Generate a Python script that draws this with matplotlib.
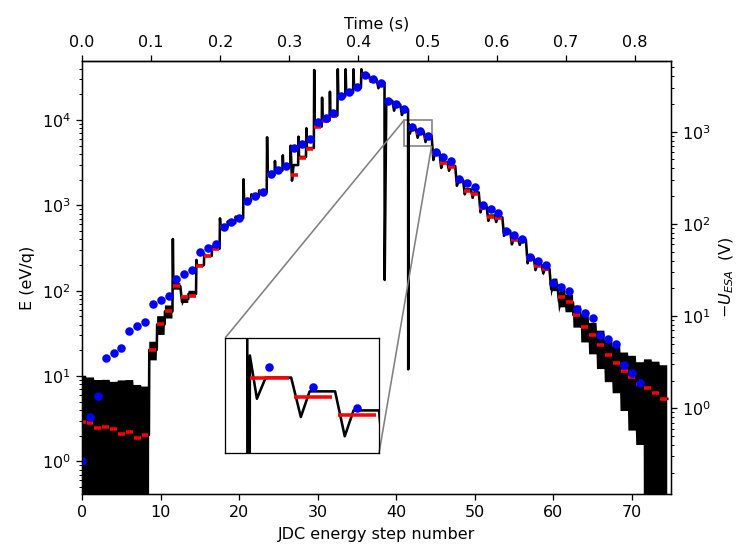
import numpy as np
import matplotlib.pyplot as plt
from mpl_toolkits.axes_grid1.inset_locator import mark_inset

# nominal energy per step (blue dots), steps 0..71
e_nominal = [1.0, 3.3, 5.9, 16.3, 18.8, 21.3, 34, 38.5, 43, 70, 78, 87,
             138, 157, 175, 282, 314, 356, 562, 639, 718, 1135, 1290, 1448,
             2316, 2600, 2918, 4670, 5245, 5960, 9420, 10500, 12000, 19170, 21350, 24250,
             34050, 30570, 27220, 16880, 15310, 13390, 8370, 7450, 6560, 4195, 3724, 3316,
             2060, 1833, 1630, 1011, 908, 808, 505, 450, 401, 250, 223, 199,
             124, 110, 98.4, 61.2, 54.8, 48.2, 30.2, 26.9, 23.9, 13.6, 11.0, 8.4]

# measured step means (red bars), steps 0..74
e_mean = [2.9, 2.85, 2.5, 2.55, 2.37, 2.11, 2.19, 1.88, 2.05, 20.3, 40.4, 57.3,
          113, 84, 88, 197, 256, 311, 562, 617, 706, 1135, 1265, 1425,
          2250, 2550, 2843, 2254, 3565, 4620, 8240, 9770, 11170, 18830, 20950, 23780,
          34000, 29500, 27000, 16500, 15030, 13140, 7870, 7000, 6280, 4080, 3116, 2843,
          1932, 1487, 1371, 940, 738, 706, 492, 393, 386, 240, 196, 178,
          119, 84, 73, 52, 37.8, 30, 23.1, 17.5, 14.3, 11.4, 9.8, 8.06, 7.23, 6.27, 5.42]

# black trace: plateau, spike after the step change, undershoot, sharp dips (0 = none)
plateau = [2.9, 2.85, 2.5, 2.55, 2.37, 2.11, 2.19, 1.88, 2.05, 20.3, 40.4, 57.3,
           113, 80, 92, 199, 256, 311, 562, 620, 710, 1135, 1270, 1430,
           2280, 2560, 2860, 2970, 3700, 4700, 8400, 9900, 11300, 19000, 21100, 24000,
           34000, 29800, 27200, 16800, 15200, 13300, 7870, 7244, 6460, 4150, 3200, 2900,
           1990, 1540, 1420, 970, 760, 725, 505, 405, 395, 246, 200, 182,
           119, 84, 73, 52, 37.8, 30, 23.1, 17.5, 14.3, 11.4, 9.8, 8.06, 7.23, 6.27, 5.42]
spike = [0, 0, 0, 0, 0, 0, 0, 0, 0, 0, 0, 0,
         404, 0, 0, 230, 270, 330, 706, 650, 740, 2023, 1350, 1500,
         6290, 3316, 3866, 5010, 6390, 8020, 38650, 18300, 21500, 39400, 39400, 39400,
         39400, 0, 0, 0, 0, 0, 8990, 0, 0, 0, 0, 0,
         0, 0, 0, 0, 0, 0, 0, 0, 0, 0, 0, 0,
         0, 0, 0, 0, 0, 0, 0, 0, 0, 0, 0, 0, 0, 0, 0]
undershoot = [0, 0, 0, 0, 0, 0, 0, 0, 0, 0, 0, 0,
              0, 74, 0, 0, 0, 0, 0, 0, 0, 0, 0, 0,
              0, 0, 0, 1950, 0, 0, 0, 0, 0, 0, 0, 0,
              0, 28200, 23600, 15000, 12880, 11480, 6930, 6210, 5530, 3400, 2750, 2550,
              1700, 1350, 1230, 830, 660, 640, 440, 350, 345, 210, 175, 160,
              105, 75, 0, 0, 0, 0, 0, 0, 0, 0, 0, 0, 0, 0, 0]
sharp_dip = {39: 134, 42: 12}

# noise amplitude (eV) around the black trace
noise_amp = [7.2, 6.8, 6.5, 6.5, 6.2, 6.8, 6.8, 6.0, 5.5, 5, 10, 10,
             10, 8, 8, 6, 6, 6, 6, 6, 6, 6, 6, 6,
             6, 6, 6, 6, 6, 6, 6, 6, 6, 6, 6, 6,
             6, 6, 6, 6, 6, 6, 6, 6, 6, 6, 6, 6,
             6, 6, 6, 6, 6, 6, 6, 6, 6, 6, 8, 10,
             20, 20, 17, 15, 13, 12, 11, 9, 8, 7.5, 7.5, 6.5, 8.5, 8.5, 8]

n_steps = len(e_mean)
dt = 0.01137  # s per energy step

# build the black trace knots
tx, ty, ta = [], [], []
prev = plateau[0]
for k in range(n_steps):
    b = k - 0.5
    tx.append(b); ty.append(prev); ta.append(noise_amp[max(k - 1, 0)])
    t_next = b + 0.05
    if k in sharp_dip:
        tx.append(b + 0.02); ty.append(sharp_dip[k]); ta.append(noise_amp[k])
        t_next = b + 0.06
    if spike[k]:
        tx.append(t_next); ty.append(spike[k]); ta.append(noise_amp[k])
        t_next = b + 0.12
    if undershoot[k]:
        tx.append(b + 0.22); ty.append(undershoot[k]); ta.append(noise_amp[k])
        t_next = b + 0.42
    tx.append(t_next); ty.append(plateau[k]); ta.append(noise_amp[k])
    prev = plateau[k]
tx.append(n_steps - 0.5); ty.append(prev); ta.append(noise_amp[-1])
tx = np.array(tx); ty = np.array(ty); ta = np.array(ta)
hi = ty + ta
lo = np.clip(ty - ta, 0.01, None)

steps = np.arange(n_steps)
nom_steps = np.arange(len(e_nominal))


def draw(a):
    a.fill_between(tx, lo, hi, color='black', lw=0)
    a.plot(tx, ty, color='black', lw=1.6)
    a.hlines(e_mean, steps - 0.44, steps + 0.44, color='red', lw=2.2, zorder=3)
    a.plot(nom_steps, e_nominal, 'o', color='blue', ms=4.3, zorder=4)


fig = plt.figure(figsize=(6.4, 554 / 115.625), dpi=115.625)
ax = fig.add_axes([0.111, 0.108, 0.796, 0.782])
draw(ax)
ax.set_yscale('log')
ax.set_xlim(0, 75)
ax.set_ylim(0.414, 4.93e4)
ax.set_xlabel('JDC energy step number')
ax.set_ylabel('E (eV/q)')

ax2 = ax.twinx()
ax2.set_yscale('log')
ax2.set_ylim(0.117, 5850)
ax2.set_ylabel(r'$-U_{ESA}$  (V)')

top = ax.secondary_xaxis('top', functions=(lambda s: s * dt, lambda t: t / dt))
top.set_xlabel('Time (s)')

axins = ax.inset_axes([0.243, 0.095, 0.261, 0.266])
draw(axins)
axins.set_yscale('log')
axins.set_xlim(41.0, 44.5)
axins.set_ylim(5000, 10000)
axins.tick_params(which='both', left=False, bottom=False, labelleft=False, labelbottom=False)
mark_inset(ax, axins, loc1=2, loc2=4, fc='none', ec='0.5')

fig.savefig('out.png', dpi=115.625)
